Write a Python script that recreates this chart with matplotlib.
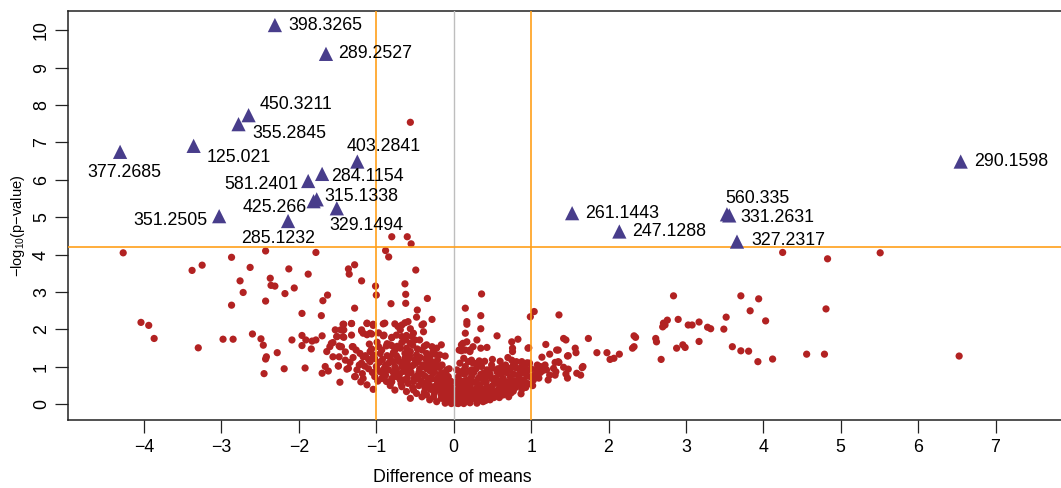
import numpy as np
import matplotlib
matplotlib.use("Agg")
import matplotlib.pyplot as plt

plt.rcParams['font.family'] = ['Liberation Sans', 'DejaVu Sans']
plt.rcParams['mathtext.default'] = 'regular'

# ---------------- data ----------------
# non-significant features (difference of means, -log10 p)
left_far = [
    (-4.27, 4.05), (-3.38, 3.58), (-3.25, 3.72), (-2.87, 3.93), (-2.43, 4.10), (-2.63, 3.66),
    (-2.13, 3.62), (-2.76, 3.30), (-2.37, 3.37), (-2.36, 3.18), (-2.31, 3.16), (-2.72, 2.99),
    (-2.18, 2.96), (-2.06, 3.11), (-2.43, 2.76), (-2.87, 2.65), (-4.04, 2.19), (-3.94, 2.11),
    (-3.87, 1.76), (-3.30, 1.51), (-2.98, 1.74), (-2.85, 1.74), (-2.60, 1.88), (-2.49, 1.75),
    (-2.46, 1.58), (-2.28, 1.38), (-2.42, 1.27), (-2.43, 1.21), (-2.19, 0.95), (-2.45, 0.82),
    (-2.09, 1.72), (-1.96, 2.43), (-1.88, 3.48), (-1.78, 4.06), (-1.69, 2.77), (-1.63, 2.92),
    (-1.71, 2.37), (-1.96, 1.84), (-1.96, 1.57), (-1.91, 1.72), (-1.84, 1.48), (-1.83, 1.69),
    (-1.78, 1.72), (-1.70, 1.83), (-1.92, 0.97), (-1.66, 1.01), (-1.70, 0.83), (-1.62, 0.89),
    (-1.64, 1.41), (-1.56, 1.65), (-1.51, 1.81), (-1.48, 1.56), (-1.45, 1.54), (-1.48, 1.27),
    (-1.49, 1.03), (-1.47, 0.59), (-1.38, 0.94), (-1.46, 1.99), (-1.42, 2.14), (-1.42, 1.79),
    (-1.31, 1.54), (-1.32, 2.16), (-1.28, 2.57), (-1.36, 3.62), (-1.35, 3.48), (-1.28, 3.73),
    (-1.27, 0.74), (-0.88, 4.11), (-0.84, 3.94), (-1.19, 3.30), (-1.01, 3.16), (-1.00, 2.92),
    (-0.81, 2.69), (-1.12, 2.17), (-1.04, 2.11), (-0.89, 2.17), (-1.19, 1.96), (-1.12, 1.86),
    (-1.06, 1.88), (-0.97, 1.91), (-1.09, 1.61), (-0.99, 1.66), (-0.87, 1.56), (-0.80, 1.57),
    (-0.80, 1.78), (-0.90, 1.85), (-0.56, 7.54), (-0.80, 4.48), (-0.60, 4.48), (-0.55, 4.29),
    (-0.49, 3.59), (-0.63, 3.22), (-0.62, 2.94), (-0.62, 2.70), (-0.34, 2.83), (-0.47, 2.52),
    (-0.48, 2.33), (-0.39, 2.15), (-0.39, 1.94),
]

left_cluster = [
    (-1.43, 2.14), (-1.32, 2.16), (-1.53, 1.99), (-1.42, 1.99), (-1.12, 2.16), (-1.04, 2.14),
    (-0.91, 2.15), (-0.76, 2.15), (-0.72, 2.08), (-0.67, 2.12), (-0.63, 2.18), (-0.59, 2.21),
    (-0.69, 1.99), (-0.56, 2.02), (-0.41, 2.12), (-0.28, 2.27),
    (-1.58, 1.63), (-1.51, 1.81), (-1.43, 1.81), (-1.32, 1.85), (-1.19, 1.99), (-1.17, 1.90),
    (-1.08, 1.90), (-0.91, 1.83), (-0.80, 1.79), (-0.74, 1.85), (-0.67, 1.81), (-0.61, 1.84),
    (-0.54, 1.81), (-0.50, 1.72), (-0.44, 1.72), (-0.35, 1.59), (-0.28, 1.54), (-0.22, 1.50),
    (-0.16, 1.59), (-0.52, 1.90), (-0.62, 1.72), (-0.56, 1.63),
    (-1.60, 1.54), (-1.47, 1.54), (-1.30, 1.54), (-1.21, 1.36), (-1.17, 1.27), (-1.08, 1.41),
    (-1.04, 1.32), (-0.95, 1.36), (-0.97, 1.54), (-0.82, 1.59), (-0.76, 1.45), (-0.69, 1.50),
    (-0.63, 1.36), (-0.56, 1.41), (-0.48, 1.32), (-0.41, 1.45), (-0.35, 1.36), (-0.31, 1.27),
    (-0.24, 1.34), (-0.18, 1.32), (-0.11, 1.29), (-0.72, 1.23), (-0.63, 1.23),
    (-1.56, 1.27), (-1.49, 1.02), (-1.40, 1.18), (-1.36, 0.96), (-1.25, 0.92), (-1.19, 1.10),
    (-1.15, 1.02), (-1.08, 1.14), (-1.00, 1.01), (-0.95, 0.87), (-0.84, 1.10), (-0.78, 1.14),
    (-0.74, 0.92), (-0.67, 1.01), (-0.60, 1.10), (-0.52, 1.05), (-0.46, 1.14), (-0.39, 1.01),
    (-0.35, 1.10), (-0.28, 1.14), (-0.22, 1.05), (-0.14, 0.83), (-0.09, 0.92), (-0.07, 0.74),
    (-1.28, 0.74), (-1.17, 0.69), (-1.12, 0.52), (-1.02, 0.74), (-0.93, 0.69), (-0.87, 0.61),
    (-0.80, 0.69), (-0.74, 0.74), (-0.65, 0.65), (-0.59, 0.56), (-0.52, 0.61), (-0.46, 0.69),
    (-0.39, 0.56), (-0.33, 0.61), (-0.26, 0.47), (-0.22, 0.65), (-0.16, 0.56), (-0.09, 0.47),
    (-0.05, 0.38), (-0.03, 0.25), (-1.04, 0.40), (-0.76, 0.38), (-0.67, 0.47), (-0.61, 0.34),
    (-0.56, 0.16), (-0.48, 0.29), (-0.41, 0.20), (-0.35, 0.25), (-0.31, 0.12), (-0.26, 0.20),
    (-0.22, 0.07), (-0.16, 0.16), (-0.11, 0.03), (-0.07, 0.12), (-0.03, 0.02), (-0.52, 0.38),
    (-0.37, 0.43), (-0.13, 0.29), (-0.05, 0.20), (-0.01, 0.07),
    (-1.05, 0.85), (-0.98, 0.62), (-0.90, 0.95), (-0.88, 0.78), (-0.82, 0.50), (-0.78, 0.85),
    (-0.70, 0.80), (-0.68, 0.55), (-0.66, 1.12), (-0.62, 0.95), (-0.60, 0.70), (-0.55, 0.85),
    (-0.53, 0.45), (-0.50, 1.20), (-0.48, 0.75), (-0.45, 0.50), (-0.44, 0.95), (-0.40, 0.80),
    (-0.38, 0.32), (-0.36, 1.22), (-0.33, 0.70), (-0.31, 0.90), (-0.30, 0.40), (-0.27, 0.82),
    (-0.25, 0.30), (-0.24, 1.00), (-0.21, 0.55), (-0.19, 0.38), (-0.18, 0.80), (-0.16, 0.25),
    (-0.14, 0.45), (-0.12, 0.65), (-0.10, 0.18), (-0.08, 0.35), (-0.06, 0.55), (-0.04, 0.12),
    (-0.03, 0.30), (-0.02, 0.45), (-1.20, 0.60), (-1.10, 1.20), (-0.92, 1.20), (-0.86, 1.30),
    (-0.74, 1.30), (-0.58, 1.22),
    (-1.22, 1.05), (-1.18, 0.82), (-1.14, 1.30), (-1.10, 0.95), (-1.06, 1.48), (-1.02, 1.22),
    (-0.99, 0.95), (-0.96, 1.12), (-0.93, 1.45), (-0.91, 0.80), (-0.88, 1.05), (-0.86, 1.62),
    (-0.84, 0.92), (-0.82, 1.25), (-0.80, 0.60), (-0.78, 1.38), (-0.76, 1.00), (-0.73, 1.55),
    (-0.71, 1.15), (-0.69, 0.65), (-0.67, 1.65), (-0.65, 0.88), (-0.63, 1.05), (-0.61, 1.50),
    (-0.59, 0.82), (-0.57, 1.30), (-0.55, 1.00), (-0.53, 1.58), (-0.51, 0.70), (-0.49, 1.10),
    (-0.47, 1.48), (-0.45, 0.85), (-0.43, 1.25), (-0.42, 0.62), (-0.40, 1.05), (-0.38, 1.55),
    (-0.37, 0.75), (-0.35, 0.95), (-0.33, 1.20), (-0.32, 0.52), (-0.30, 1.00), (-0.28, 0.68),
    (-0.27, 1.40), (-0.25, 0.88), (-0.23, 0.45), (-0.21, 1.18), (-0.20, 0.72), (-0.18, 0.98),
    (-0.17, 0.50), (-0.15, 1.05), (-0.13, 0.68), (-0.12, 0.40), (-0.10, 0.80), (-0.09, 0.58),
    (-0.07, 0.28), (-0.06, 0.95), (-0.04, 0.62), (-0.02, 0.20), (-1.30, 1.25), (-1.26, 1.45),
    (-1.34, 1.12), (-1.40, 1.40),
]

right_cluster = [
    (0.10, 1.59), (0.15, 1.45), (0.21, 1.45), (0.25, 1.54), (0.04, 0.92), (0.08, 1.10),
    (0.13, 1.23), (0.15, 1.01), (0.19, 1.14), (0.23, 0.92), (0.30, 1.10), (0.36, 1.01),
    (0.43, 0.92), (0.49, 0.96), (0.56, 0.87), (0.62, 1.01), (0.64, 0.92), (0.71, 0.96),
    (0.77, 1.05), (0.81, 1.14), (0.88, 1.01), (0.92, 0.83), (0.96, 0.92), (0.99, 0.74),
    (0.90, 0.65), (0.84, 0.74), (0.73, 0.74), (0.64, 0.69), (0.06, 0.74), (0.13, 0.61),
    (0.17, 0.47), (0.23, 0.74), (0.30, 0.56), (0.36, 0.69), (0.43, 0.47), (0.49, 0.69),
    (0.56, 0.56), (0.62, 0.47), (0.69, 0.38), (0.75, 0.52), (0.79, 0.61), (0.86, 0.54),
    (0.94, 0.56), (0.38, 0.83), (0.10, 0.47), (0.21, 0.43), (0.02, 0.20), (0.04, 0.03),
    (0.08, 0.29), (0.13, 0.12), (0.19, 0.20), (0.25, 0.29), (0.32, 0.16), (0.38, 0.25),
    (0.45, 0.29), (0.51, 0.34), (0.58, 0.25), (0.64, 0.25), (0.71, 0.20), (0.34, 0.38),
    (0.43, 0.16), (0.06, 0.02), (0.13, 0.02), (0.21, 0.04), (0.30, 0.03), (0.38, 0.07),
    (0.47, 0.12), (-0.05, 0.07),
    (0.02, 0.10), (0.03, 0.35), (0.05, 0.55), (0.07, 0.18), (0.08, 0.85), (0.10, 0.40),
    (0.12, 0.25), (0.14, 0.80), (0.16, 0.10), (0.18, 0.65), (0.20, 0.30), (0.22, 0.55),
    (0.24, 0.15), (0.26, 0.85), (0.28, 0.40), (0.30, 0.25), (0.32, 0.70), (0.34, 0.50),
    (0.36, 0.12), (0.40, 0.40), (0.42, 0.60), (0.44, 0.20), (0.47, 0.80), (0.50, 0.50),
    (0.52, 0.18), (0.54, 0.70), (0.58, 0.40), (0.60, 0.80), (0.62, 0.30), (0.66, 0.55),
    (0.68, 0.85), (0.72, 0.45), (0.74, 0.30), (0.78, 0.80), (0.80, 0.45), (0.84, 0.95),
    (0.88, 0.40), (0.92, 1.05), (0.96, 0.55), (1.00, 0.95), (1.05, 0.80), (1.08, 1.05),
    (1.10, 0.70), (1.15, 0.90), (1.02, 0.50), (0.25, 1.10), (0.40, 1.15), (0.50, 1.20),
    (0.60, 1.15), (0.70, 1.25),
    (0.01, 0.30), (0.03, 0.60), (0.05, 0.08), (0.06, 0.40), (0.09, 0.62), (0.11, 0.10),
    (0.12, 0.90), (0.14, 0.35), (0.16, 0.58), (0.18, 0.22), (0.20, 0.88), (0.21, 0.12),
    (0.23, 0.40), (0.26, 0.60), (0.27, 0.20), (0.29, 0.95), (0.31, 0.45), (0.33, 0.10),
    (0.35, 0.80), (0.37, 0.35), (0.39, 0.60), (0.41, 0.10), (0.43, 0.75), (0.46, 0.40),
    (0.48, 0.22), (0.49, 1.05), (0.53, 0.60), (0.55, 0.35), (0.57, 0.95), (0.59, 0.18),
    (0.61, 0.62), (0.63, 0.85), (0.65, 0.40), (0.67, 1.05), (0.69, 0.60), (0.71, 0.28),
    (0.73, 0.92), (0.76, 0.62), (0.77, 0.35), (0.80, 0.98), (0.82, 0.62), (0.86, 0.82),
    (0.87, 0.28), (0.90, 0.95), (0.93, 0.45), (0.95, 0.75), (0.98, 1.10), (1.03, 0.65),
    (1.07, 0.92), (1.12, 0.85), (1.18, 1.05), (1.22, 0.65),
]

right_far = [
    (0.07, 1.45), (0.36, 2.95), (0.15, 2.57), (0.17, 2.21), (0.17, 2.14), (0.35, 2.37),
    (0.35, 2.02), (0.15, 1.90), (0.17, 1.67), (0.30, 1.72), (0.35, 1.50), (0.43, 1.52),
    (0.56, 1.83), (0.75, 1.67), (0.83, 1.74), (0.76, 1.50), (0.76, 1.41), (0.97, 1.51),
    (0.99, 2.34), (1.04, 2.48), (1.19, 1.60), (1.36, 2.39), (1.35, 1.45), (1.42, 1.76),
    (1.45, 1.72), (1.48, 1.30), (1.57, 1.50), (1.58, 1.38), (1.74, 1.76), (1.85, 1.38),
    (1.98, 1.38), (2.02, 1.20), (2.07, 1.23), (2.14, 1.34), (2.31, 1.50), (2.33, 1.54),
    (2.35, 1.79), (2.33, 1.83), (2.61, 1.76), (2.62, 1.67), (2.68, 1.20), (2.71, 2.17),
    (2.76, 2.25), (2.70, 2.07), (2.73, 2.12), (2.84, 2.90), (2.90, 2.27), (2.88, 1.50),
    (2.96, 1.59), (2.99, 1.52), (3.03, 2.12), (0.12, 1.63), (0.10, 1.43), (0.21, 1.41),
    (0.23, 1.18), (0.33, 1.16), (0.75, 1.18), (0.88, 1.14), (0.95, 1.11), (0.96, 1.50),
    (1.24, 1.34), (1.14, 1.26), (1.33, 1.45), (1.35, 1.14), (1.12, 1.01), (1.20, 0.92),
    (1.29, 0.96), (1.31, 1.12), (1.36, 1.12), (1.47, 1.29), (1.42, 0.99), (1.48, 0.94),
    (1.45, 0.81), (1.47, 0.70), (1.32, 0.87), (1.31, 0.78), (1.24, 0.78), (1.59, 0.83),
    (1.64, 0.78), (1.66, 0.98), (1.67, 1.01), (3.08, 2.12), (3.17, 2.20), (3.17, 1.68),
    (3.28, 2.06), (3.32, 2.02), (3.49, 2.01), (3.52, 2.33), (3.60, 1.54), (3.71, 1.43),
    (3.71, 2.90), (3.81, 1.42), (3.83, 2.50), (4.25, 4.06), (4.83, 3.89), (5.51, 4.05),
    (3.94, 2.82), (4.03, 2.23), (4.81, 2.55), (3.93, 1.14), (4.12, 1.21), (4.56, 1.34),
    (4.79, 1.34), (6.53, 1.29),
]

# significant features
sig_labels = ["398.3265", "289.2527", "450.3211", "355.2845", "125.021", "377.2685",
              "351.2505", "285.1232", "425.266", "581.2401", "284.1154", "315.1338",
              "329.1494", "403.2841", "261.1443", "247.1288", "560.335", "331.2631",
              "327.2317", "290.1598"]
sig_x = [-2.31, -1.65, -2.65, -2.78, -3.36, -4.31, -3.03, -2.14, -1.81, -1.88, -1.70, -1.77,
         -1.51, -1.245, 1.53, 2.14, 3.53, 3.56, 3.66, 6.55]
sig_y = [10.14, 9.37, 7.73, 7.49, 6.91, 6.75, 5.03, 4.90, 5.43, 5.97, 6.16, 5.48,
         5.24, 6.49, 5.11, 4.62, 5.08, 5.05, 4.35, 6.49]

fc_cut = [-1, 1]
p_cut = 4.21

xticks = [-4, -3, -2, -1, 0, 1, 2, 3, 4, 5, 6, 7]
yticks = [0, 1, 2, 3, 4, 5, 6, 7, 8, 9, 10]

# label placement (pixel offsets from marker, alignment) -- style only
label_style = [
    (13, 0, 'left'), (12, 0, 'left'), (11, 11, 'left'), (14, -9, 'left'), (13, -12, 'left'),
    (4, -21, 'center'), (-12, -4, 'right'), (27, -17, 'right'), (-7, -6, 'right'), (-10, -3, 'right'),
    (9, -3, 'left'), (8, 3, 'left'), (-7, -17, 'left'), (-11, 15, 'left'), (13, 0, 'left'),
    (13, 0, 'left'), (-2, 16, 'left'), (11, -2, 'left'), (14, 1, 'left'), (13, 0, 'left'),
]

# ---------------- plot ----------------
bg = np.array(left_far + left_cluster + right_cluster + right_far)

fig = plt.figure(figsize=(10.61, 4.88), dpi=100)
ax = fig.add_axes([68 / 1061, 68 / 488, (1061 - 68) / 1061, (420 - 11) / 488])

ax.scatter(bg[:, 0], bg[:, 1], s=27, c='#B22222', edgecolors='none', zorder=2)

ax.axvline(0, color='#BEBEBE', lw=1.0, zorder=3)
for v in fc_cut:
    ax.axvline(v, color='#FF9F1A', lw=1.2, zorder=3)
ax.axhline(p_cut, color='#FF9F1A', lw=1.2, zorder=3)

ax.scatter(sig_x, sig_y, s=105, marker='^', c='#483D8B', edgecolors='none', zorder=4)

for lab, x, y, (dx, dy, ha) in zip(sig_labels, sig_x, sig_y, label_style):
    ax.annotate(lab, (x, y), xytext=(dx, dy), textcoords='offset pixels',
                ha=ha, va='center', fontsize=12.8, color='black', zorder=5)

ax.set_xlim(-4.983, 7.846)
ax.set_ylim(-0.42, 10.516)
ax.set_xticks(xticks)
ax.set_yticks(yticks)
ax.set_xticklabels([f"{t}".replace('-', '\u2212') for t in xticks])
ax.set_yticklabels([str(t) for t in yticks])

for s in ['left', 'bottom', 'top']:
    ax.spines[s].set_linewidth(1.1)
    ax.spines[s].set_color('#222222')
ax.spines['right'].set_visible(False)

ax.tick_params(axis='both', length=9.4, width=0.9, color='#222222', labelsize=12.8)
ax.tick_params(axis='x', pad=4.5)
ax.tick_params(axis='y', pad=3.5)
for t in ax.get_yticklabels():
    t.set_rotation(90)
    t.set_va('center')

ax.set_xlabel('Difference of means', fontsize=12.8)
ax.xaxis.set_label_coords((452.5 - 68) / (1061 - 68), -(478 - 420) / (420 - 11), transform=ax.transAxes)
ax.xaxis.label.set_va('center')

# y label placed explicitly in figure pixels (centre at x=18, y=225 from top)
fig.text(18 / 1061, 1 - 225.5 / 488, '\u2212log$_{10}$(p\u2212value)', fontsize=10.5,
         rotation=90, ha='center', va='center', rotation_mode='anchor')

fig.savefig('out.png', dpi=100)
